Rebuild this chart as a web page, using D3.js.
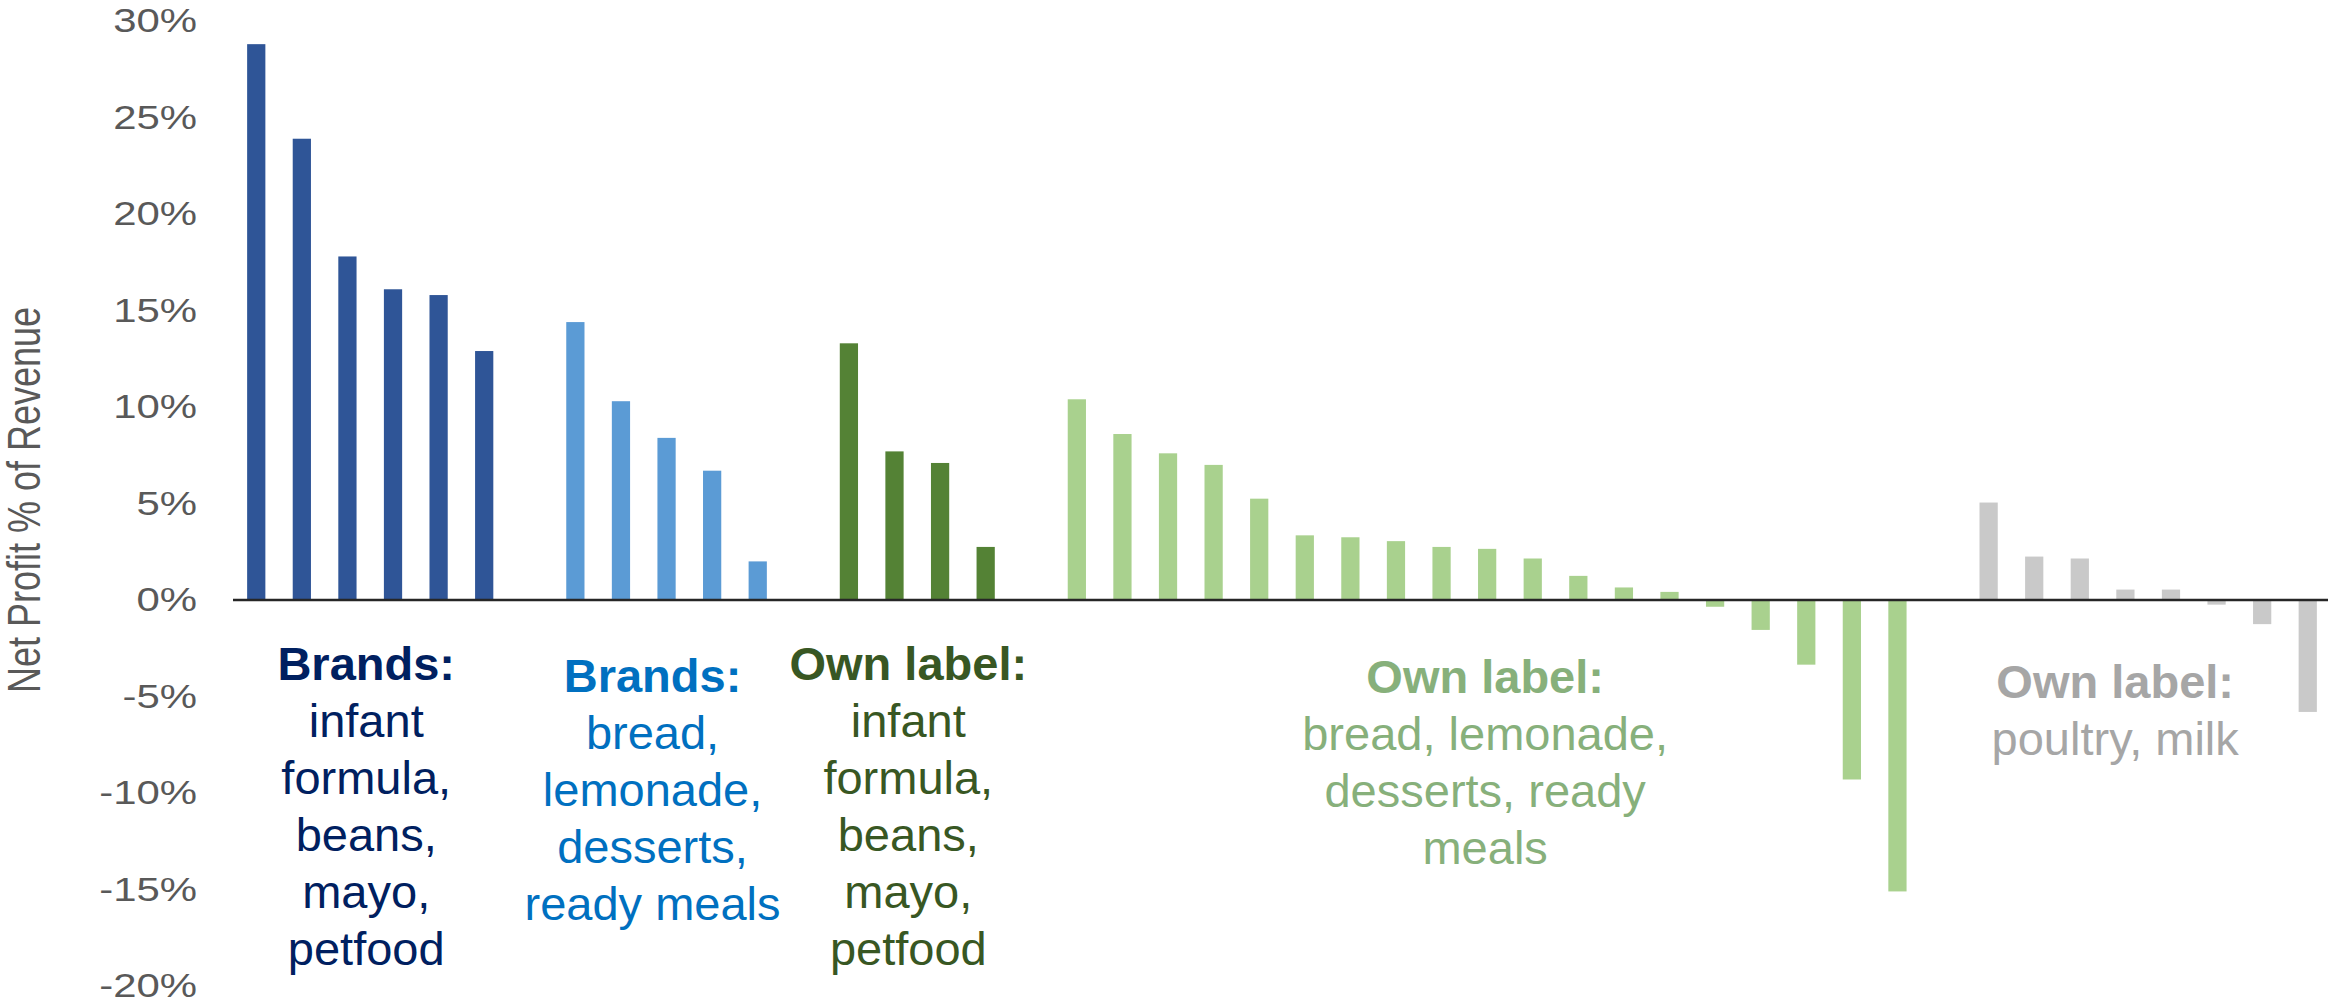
<!DOCTYPE html>
<html>
<head>
<meta charset="utf-8">
<script src="https://cdn.jsdelivr.net/npm/d3@7"></script>
<style>
  html, body { margin: 0; padding: 0; background: #fff; }
  svg { display: block; font-family: "Liberation Sans", Arial, Helvetica, sans-serif; }
</style>
</head>
<body>
<svg id="chart" width="2328" height="1004"></svg>
<script>
// Net profit as % of revenue, one bar per product line, grouped by segment
const brandsCoreValues = [28.8, 23.9, 17.8, 16.1, 15.8, 12.9];
const brandsOtherValues = [14.4, 10.3, 8.4, 6.7, 2.0];
const ownLabelCoreValues = [13.3, 7.7, 7.1, 2.75];
const ownLabelOtherValues = [10.4, 8.6, 7.6, 7.0, 5.25, 3.35, 3.25, 3.05, 2.75, 2.65, 2.15, 1.25, 0.65, 0.42,
                             -0.35, -1.55, -3.35, -9.3, -15.1];
const ownLabelCommodityValues = [5.05, 2.25, 2.15, 0.54, 0.54, -0.24, -1.25, -5.8];

// Segment captions: bold heading plus the product lines beneath it
const segmentHeads = ["Brands:", "Brands:", "Own label:", "Own label:", "Own label:"];
const segmentLines = [
  ["infant", "formula,", "beans,", "mayo,", "petfood"],
  ["bread,", "lemonade,", "desserts,", "ready meals"],
  ["infant", "formula,", "beans,", "mayo,", "petfood"],
  ["bread, lemonade,", "desserts, ready", "meals"],
  ["poultry, milk"]
];

const yTickValues = [-20, -15, -10, -5, 0, 5, 10, 15, 20, 25, 30];
const yAxisTitle = "Net Profit % of Revenue";

// ---- styling ----
const barColors = ["#2F5597", "#5B9BD5", "#548235", "#A9D18E", "#C9C9C9"];
const textColors = ["#002060", "#0070C0", "#385723", "#87B07B", "#A6A6A6"];
const captionDx = [-4, -14, -9, -2, -33];
const captionBaseline = [680, 692, 680, 693, 698];
const lineGap = 57;

const segmentValues = [brandsCoreValues, brandsOtherValues, ownLabelCoreValues,
                       ownLabelOtherValues, ownLabelCommodityValues];

// One slot per bar, with an empty slot between segments
const bars = [];
const slots = [];
segmentValues.forEach((vals, s) => {
  vals.forEach((v, j) => {
    const key = `s${s}-${j}`;
    bars.push({ key, value: v, segment: s });
    slots.push(key);
  });
  if (s < segmentValues.length - 1) slots.push(`gap${s}`);
});

const svg = d3.select("#chart");

const x = d3.scaleBand()
  .domain(slots)
  .range([233, 2331])
  .paddingInner(0.6)
  .paddingOuter(0.31);

const y = d3.scaleLinear()
  .domain([-20, 30])
  .range([986, 21]);

// y tick labels (no axis line, no tick marks)
const yAxis = d3.axisLeft(y)
  .tickValues(yTickValues)
  .tickSize(0)
  .tickFormat(d => `${d}%`);

const axisG = svg.append("g")
  .attr("transform", "translate(197,0)")
  .call(yAxis);
axisG.select(".domain").remove();
axisG.selectAll("text")
  .attr("x", 0)
  .attr("dy", "0.32em")
  .attr("transform", "scale(1.27,1)")
  .attr("fill", "#595959")
  .style("font-size", "33px")
  .style("font-family", "\"Liberation Sans\", Arial, sans-serif");

// y axis title
svg.append("text")
  .attr("transform", "translate(40,500) scale(1.27,1) rotate(-90)")
  .attr("text-anchor", "middle")
  .attr("fill", "#595959")
  .style("font-size", "36px")
  .text(yAxisTitle);

// bars
svg.append("g")
  .selectAll("rect")
  .data(bars)
  .join("rect")
  .attr("x", d => x(d.key))
  .attr("width", x.bandwidth())
  .attr("y", d => y(Math.max(0, d.value)))
  .attr("height", d => Math.abs(y(d.value) - y(0)))
  .attr("fill", d => barColors[d.segment]);

// zero baseline
svg.append("line")
  .attr("x1", 233)
  .attr("x2", 2328)
  .attr("y1", y(0))
  .attr("y2", y(0))
  .attr("stroke", "#262626")
  .attr("stroke-width", 2.5);

// segment captions
segmentValues.forEach((vals, s) => {
  const first = x(`s${s}-0`);
  const last = x(`s${s}-${vals.length - 1}`) + x.bandwidth();
  const cx = (first + last) / 2 + captionDx[s];
  const t = svg.append("text")
    .attr("text-anchor", "middle")
    .attr("fill", textColors[s])
    .style("font-size", "47px");
  t.append("tspan")
    .attr("x", cx)
    .attr("y", captionBaseline[s])
    .style("font-weight", "bold")
    .text(segmentHeads[s]);
  segmentLines[s].forEach((line, k) => {
    t.append("tspan")
      .attr("x", cx)
      .attr("y", captionBaseline[s] + lineGap * (k + 1))
      .text(line);
  });
});
</script>
</body>
</html>
